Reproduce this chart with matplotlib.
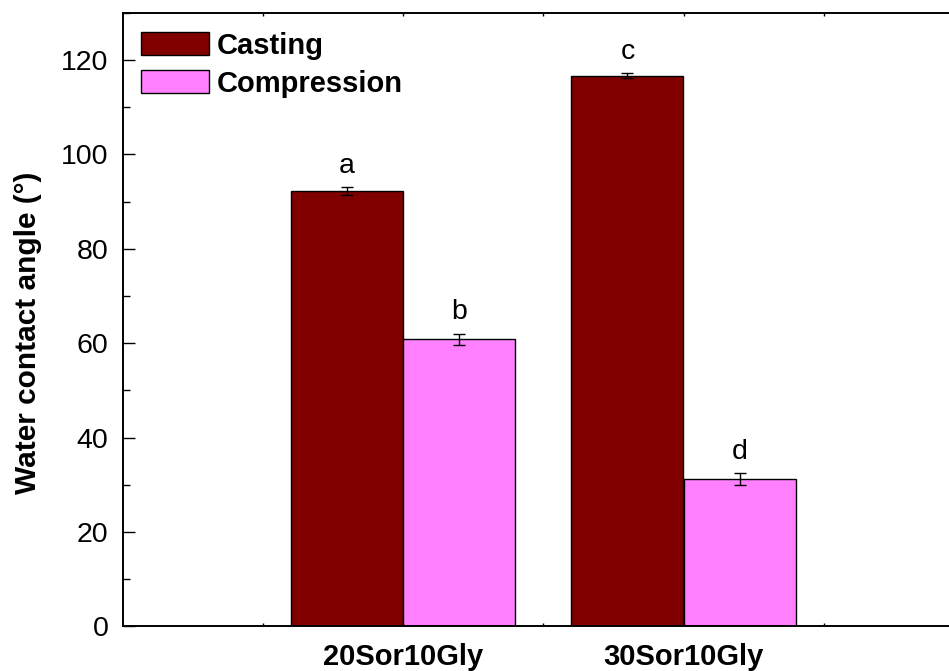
import matplotlib.pyplot as plt
import numpy as np

plt.rcParams['font.family'] = ['Liberation Sans', 'DejaVu Sans']

# podaci ocitani sa slike
uzorci = ["20Sor10Gly", "30Sor10Gly"]
casting = [92.2, 116.7]
casting_err = [0.9, 0.6]
compression = [60.8, 31.2]
compression_err = [1.2, 1.2]
slova_casting = ["a", "c"]
slova_compression = ["b", "d"]

fig = plt.figure(figsize=(9.49, 6.71), dpi=100)
ax = fig.add_axes([122.5 / 949, 44.7 / 671, 841.5 / 949, 613.5 / 671])

x = np.arange(1, len(uzorci) + 1)
w = 0.4
ax.bar(x - w / 2, casting, w, color="#800000", edgecolor="black", linewidth=1,
       label="Casting")
ax.bar(x + w / 2, compression, w, color="#FF80FF", edgecolor="black", linewidth=1,
       label="Compression")
ax.errorbar(x - w / 2, casting, yerr=casting_err, fmt="none", ecolor="black",
            elinewidth=1, capsize=4.3, capthick=1)
ax.errorbar(x + w / 2, compression, yerr=compression_err, fmt="none", ecolor="black",
            elinewidth=1, capsize=4.3, capthick=1)

for i in range(len(uzorci)):
    ax.annotate(slova_casting[i], (x[i] - w / 2, casting[i] + casting_err[i]),
                xytext=(0, 10), textcoords="offset points", ha="center",
                va="baseline", fontsize=20.5)
    ax.annotate(slova_compression[i], (x[i] + w / 2, compression[i] + compression_err[i]),
                xytext=(0, 10.5), textcoords="offset points", ha="center",
                va="baseline", fontsize=20.5)

ax.set_xlim(0, 3)
ax.set_ylim(0, 130)
ax.set_xticks(x)
ax.set_xticklabels(uzorci, fontsize=21, fontweight="bold")
ax.set_xticks([0.5, 1.5, 2.5], minor=True)
ax.set_yticks(np.arange(0, 121, 20))
ax.set_yticks(np.arange(10, 131, 20), minor=True)
ax.tick_params(axis="y", which="major", direction="in", length=8.6, width=1,
               labelsize=20.5, pad=10, right=True)
ax.tick_params(axis="y", which="minor", direction="in", length=5, width=1, right=True)
ax.tick_params(axis="x", which="both", direction="in", length=2, width=1, top=True,
               pad=12)
for s in ax.spines.values():
    s.set_linewidth(1.4)

ax.set_ylabel("Water contact angle (°)", fontsize=21.5, fontweight="bold")
ax.yaxis.set_label_coords(-0.0957, 0.478)

ax.legend(loc="upper left", bbox_to_anchor=(0.0, 1.0), frameon=False,
          prop={"weight": "bold", "size": 21}, handlelength=2.3, handleheight=0.85,
          handletextpad=0.28, labelspacing=0.35, borderaxespad=0.45, borderpad=0.2)

fig.savefig("out.png", dpi=100)
